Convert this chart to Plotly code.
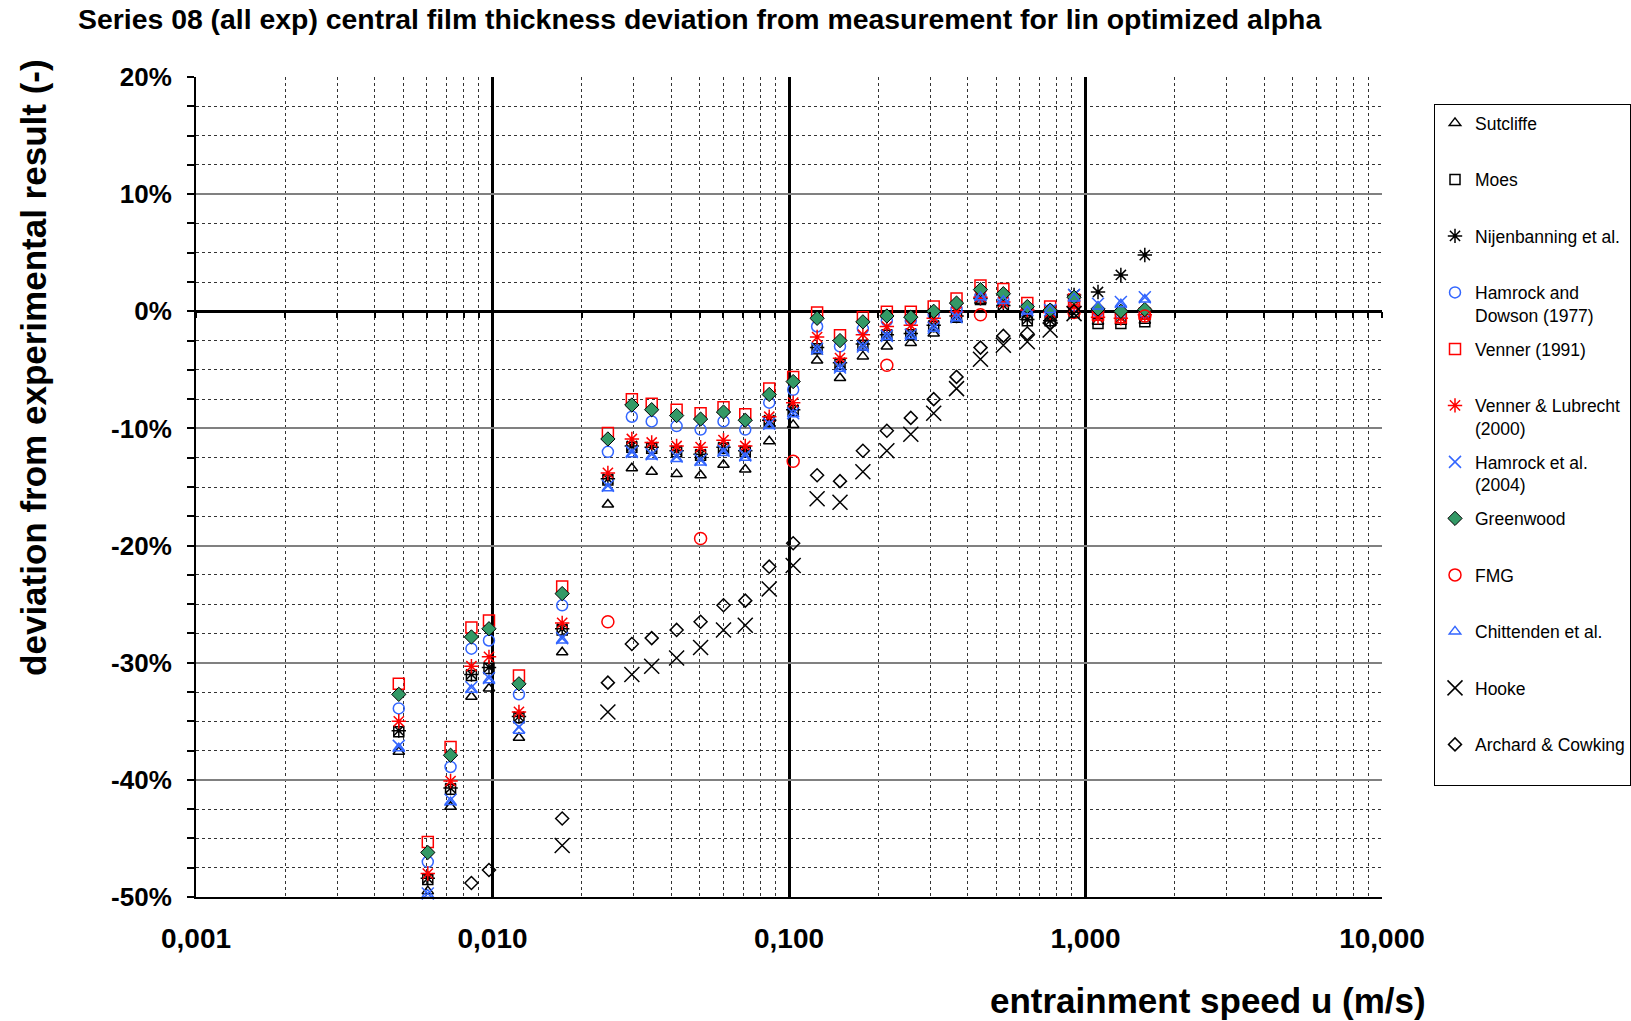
import plotly.graph_objects as go

# entrainment speed (m/s)
u = [0.00483, 0.00605, 0.00722, 0.00849, 0.00973, 0.01228, 0.01718, 0.02450, 0.02951, 0.03443,
     0.04178, 0.05033, 0.06013, 0.07120, 0.08577, 0.1033, 0.1244, 0.1486, 0.1775, 0.2138,
     0.2575, 0.3076, 0.3673, 0.4424, 0.5284, 0.6364, 0.760, 0.915, 1.102, 1.316, 1.585]

sutcliffe = [-37.6, -49.5, -42.3, -32.9, -32.2, -36.4, -29.1, -16.5, -13.4, -13.7, -13.9, -14.0, -13.1, -13.5,
             -11.1, -9.7, -4.2, -5.7, -3.85, -3.0, -2.7, -1.9, -0.7, 0.9, 0.7, -0.5, -0.6, 1.0, -0.9, -0.9, -0.8]
moes = [-35.9, -48.5, -40.8, -31.1, -30.5, -34.7, -27.2, -14.4, -11.6, -11.7, -12.0, -12.3, -11.7, -12.0,
        -9.4, -8.5, -3.2, -4.5, -2.9, -2.05, -2.0, -1.3, -0.5, 1.0, 0.4, -0.8, -0.8, -0.1, -1.05, -1.05, -0.9]
nijenbanning = [-35.8, -48.4, -40.7, -31.0, -30.4, -34.6, -27.1, -14.3, -11.5, -11.6, -11.9, -12.2, -11.6, -11.9,
                -9.3, -8.4, -3.1, -4.4, -2.8, -2.0, -1.9, -1.2, -0.4, 1.1, 0.5, -0.7, -0.8, 1.4, 1.65, 3.1, 4.8]
hamrock_dowson = [-33.9, -47.0, -38.9, -28.8, -28.1, -32.7, -25.1, -12.0, -9.0, -9.4, -9.8, -10.1, -9.4, -10.1,
                  -7.8, -6.7, -1.3, -3.0, -1.5, -0.8, -0.8, -0.3, 0.2, 1.3, 1.0, 0.2, 0.1, 0.5, 0.0, -0.2, -0.1]
venner = [-31.8, -45.3, -37.2, -27.0, -26.4, -31.1, -23.5, -10.4, -7.5, -7.9, -8.4, -8.7, -8.2, -8.8,
          -6.6, -5.6, -0.1, -2.05, -0.5, -0.05, -0.05, 0.4, 1.1, 2.2, 1.9, 0.7, 0.4, 1.0, -0.3, -0.5, -0.2]
venner_lubrecht = [-35.0, -48.0, -40.1, -30.3, -29.5, -34.2, -26.6, -13.8, -10.9, -11.2, -11.5, -11.6, -11.0, -11.5,
                   -9.0, -7.8, -2.2, -4.0, -2.0, -1.3, -1.2, -0.6, -0.05, 1.2, 0.8, 0.1, -0.1, 0.4, -0.5, -0.6, -0.3]
hamrock_2004 = [-37.1, -49.7, -41.7, -32.1, -31.3, -35.5, -27.9, -14.9, -12.0, -12.2, -12.4, -12.7, -11.9, -12.3,
                -9.6, -8.7, -3.2, -4.8, -3.0, -2.1, -2.0, -1.4, -0.5, 1.4, 1.1, 0.1, 0.1, 1.4, 0.65, 0.8, 1.2]
greenwood = [-32.7, -46.2, -37.9, -27.8, -27.1, -31.8, -24.1, -10.9, -8.0, -8.4, -8.9, -9.2, -8.6, -9.3,
             -7.1, -6.0, -0.6, -2.5, -0.9, -0.4, -0.5, 0.0, 0.7, 1.85, 1.5, 0.4, 0.1, 1.2, 0.2, 0.0, 0.15]
fmg = [None, None, None, None, None, None, None, -26.5, None, None, None, -19.4, None, None,
       None, -12.8, None, None, None, -4.6, None, None, None, -0.3, None, None, None, -0.1, None, None, -0.4]
chittenden = [-37.3, -49.8, -41.9, -32.3, -31.5, -35.8, -28.1, -15.1, -12.2, -12.4, -12.6, -12.9, -12.1, -12.5,
              -9.8, -8.8, -3.3, -4.9, -3.1, -2.2, -2.1, -1.5, -0.6, 1.2, 0.9, 0.0, 0.1, 1.1, 0.4, 0.6, 1.0]
hooke = [None, None, None, None, None, None, -45.6, -34.2, -31.0, -30.3, -29.6, -28.7, -27.2, -26.8,
         -23.7, -21.7, -16.0, -16.3, -13.7, -11.9, -10.5, -8.7, -6.6, -4.1, -2.9, -2.6, -1.6, -0.2, None, None, None]
archard = [None, None, None, -48.8, -47.7, None, -43.3, -31.7, -28.4, -27.9, -27.2, -26.5, -25.1, -24.7,
           -21.8, -19.8, -14.0, -14.5, -11.9, -10.2, -9.1, -7.5, -5.6, -3.1, -2.1, -1.9, -1.0, 0.0, None, None, None]

names = ["Sutcliffe", "Moes", "Nijenbanning et al.", "Hamrock and<br>Dowson (1977)", "Venner (1991)",
         "Venner & Lubrecht<br>(2000)", "Hamrock et al.<br>(2004)", "Greenwood", "FMG", "Chittenden et al.",
         "Hooke", "Archard & Cowking"]
values = [sutcliffe, moes, nijenbanning, hamrock_dowson, venner, venner_lubrecht, hamrock_2004,
          greenwood, fmg, chittenden, hooke, archard]

x_tickvals = [0.001, 0.01, 0.1, 1, 10]
x_ticktext = ["0,001", "0,010", "0,100", "1,000", "10,000"]
y_tickvals = [-50, -40, -30, -20, -10, 0, 10, 20]
y_ticktext = ["-50%", "-40%", "-30%", "-20%", "-10%", "0%", "10%", "20%"]

BLUE = "#3366FF"
styles = [
    ("triangle-up-open", "black", 10, 1.5, "black"),
    ("square-open", "black", 10, 1.5, "black"),
    ("asterisk-open", "black", 12, 1.5, "black"),
    ("circle-open", BLUE, 11, 1.5, BLUE),
    ("square-open", "red", 11, 1.5, "red"),
    ("asterisk-open", "red", 12, 1.5, "red"),
    ("x-thin-open", BLUE, 12, 1.5, BLUE),
    ("diamond", "#339966", 11, 1, "black"),
    ("circle-open", "red", 12, 1.5, "red"),
    ("triangle-up-open", BLUE, 10, 1.5, BLUE),
    ("x-thin-open", "black", 15, 1.5, "black"),
    ("diamond-open", "black", 10, 1.5, "black"),
]

FONT = "Liberation Sans, Arial, sans-serif"
fig = go.Figure()
for i, (nm, vals, st) in enumerate(zip(names, values, styles)):
    sym, col, size, lw, lcol = st
    label = nm if "<br>" in nm else nm + "<br>\u00a0"
    fig.add_trace(go.Scatter(
        x=u, y=vals, mode="markers", name=label, legendgroup=str(i),
        xaxis="x2" if i == len(names) - 1 else "x",
        marker=dict(symbol=sym, color=col, size=size, line=dict(width=lw, color=lcol)),
        cliponaxis=False,
    ))

minor_x = [m * 10 ** e for e in range(-3, 1) for m in range(2, 10)]

fig.update_layout(
    width=1631, height=1021,
    margin=dict(l=196, r=249, t=77, b=124, autoexpand=False),
    paper_bgcolor="white", plot_bgcolor="white",
    font=dict(family=FONT, color="black"),
    title=dict(text="Series 08 (all exp) central film thickness deviation from measurement for lin optimized alpha",
               x=78 / 1631, xanchor="left", y=1 - 19 / 1021, yanchor="middle",
               font=dict(size=28.4, family=FONT, weight="bold", color="black")),
    xaxis=dict(type="log", range=[-3, 1], tickvals=x_tickvals, ticktext=x_ticktext,
               tickfont=dict(size=28, weight="bold"), ticks="", ticklabelstandoff=15,
               showgrid=True, gridcolor="black", gridwidth=3,
               minor=dict(tickvals=minor_x, showgrid=True, gridcolor="#333", gridwidth=1, griddash="dot", ticks=""),
               showline=True, linecolor="black", linewidth=2, zeroline=False),
    xaxis2=dict(type="log", range=[-3, 1], overlaying="x", matches="x", anchor="free", position=50 / 70,
                tickvals=x_tickvals, showticklabels=False, ticks="outside", ticklen=6, tickwidth=2, tickcolor="black",
                minor=dict(tickvals=minor_x, ticks="outside", ticklen=6, tickwidth=2, tickcolor="black", showgrid=False),
                showgrid=False, showline=False, zeroline=False),
    yaxis=dict(range=[-50, 20], tickvals=y_tickvals, ticktext=y_ticktext,
               tickfont=dict(size=26, weight="bold"), ticks="outside", ticklen=7, tickwidth=2, tickcolor="black",
               ticklabelstandoff=10,
               showgrid=True, gridcolor="#808080", gridwidth=2,
               minor=dict(dtick=2.5, showgrid=True, gridcolor="#333", gridwidth=1, griddash="dot",
                          ticks="outside", ticklen=7, tickwidth=2, tickcolor="black"),
               showline=True, linecolor="black", linewidth=2,
               zeroline=True, zerolinecolor="black", zerolinewidth=3),
    legend=dict(xref="container", yref="container", x=1434 / 1631, y=1 - 104 / 1021,
                xanchor="left", yanchor="top", bordercolor="black", borderwidth=1, bgcolor="white",
                font=dict(size=17.5, family=FONT, color="black"), valign="top", tracegroupgap=8,
                itemwidth=30, maxheight=760),
    annotations=[
        dict(text="entrainment speed u (m/s)", xref="paper", yref="paper",
             x=(1428 - 196) / 1186, y=(897 - 1001) / 820.4, xanchor="right", yanchor="middle",
             showarrow=False, font=dict(size=35, family=FONT, weight="bold", color="black")),
        dict(text="deviation from experimental result (-)", xref="paper", yref="paper",
             x=(34 - 196) / 1186, y=(897 - 57) / 820.4, xanchor="center", yanchor="top", textangle=-90,
             showarrow=False, font=dict(size=35, family=FONT, weight="bold", color="black")),
    ],
)

fig.write_html("out.html")
